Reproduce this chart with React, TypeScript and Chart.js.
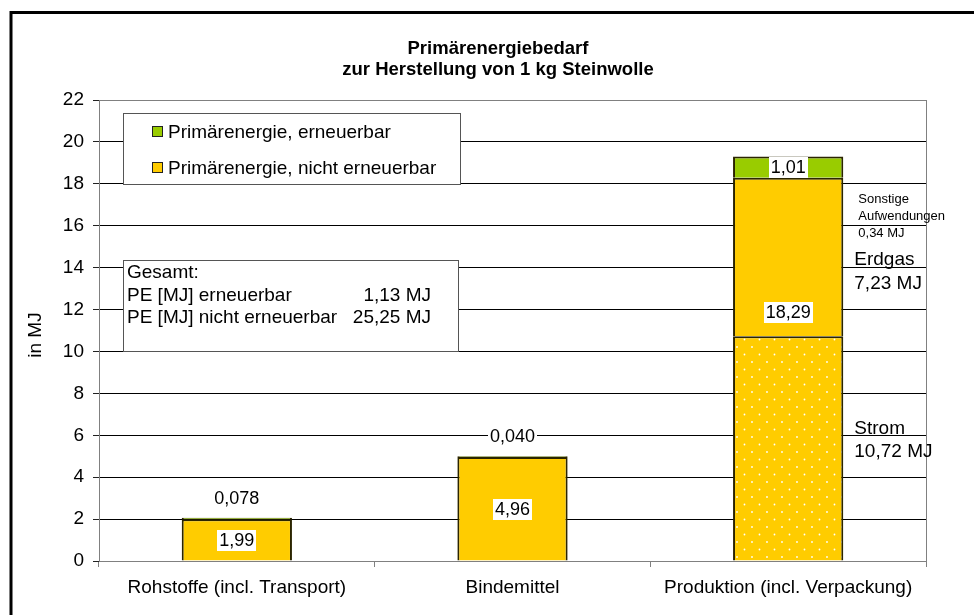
import React, { useEffect, useRef } from "react";
import { Chart, registerables } from "chart.js";

Chart.register(...registerables);

const FONT = "'Liberation Sans', Arial, sans-serif";

// ---- data ----
const categories = ["Rohstoffe (incl. Transport)", "Bindemittel", "Produktion (incl. Verpackung)"];
const nichtErneuerbar = [1.99, 4.96, 18.29];
const erneuerbar = [0.078, 0.04, 1.01];
const erneuerbarDecimals = [3, 3, 2];
const stromAnteil = [0, 0, 10.72];
const erdgasAnteil = 7.23;
const sonstigeAnteil = 0.34;
const yMin = 0;
const yMax = 22;
const yStep = 2;
const titleLines = ["Primärenergiebedarf", "zur Herstellung von 1 kg Steinwolle"];
const yTitle = "in MJ";
const legendLabels = ["Primärenergie, erneuerbar", "Primärenergie, nicht erneuerbar"];
const gesamtTitle = "Gesamt:";
const gesamtLabels = ["PE [MJ] erneuerbar", "PE [MJ] nicht erneuerbar"];
const gesamtValues = [1.13, 25.25];

const YELLOW = "#FFCC00";
const GREEN = "#99CC00";

const fmt = (v: number, d: number) => v.toFixed(d).replace(".", ",");

const restNichtErneuerbar = nichtErneuerbar.map((v, i) => +(v - stromAnteil[i]).toFixed(2));

export default function App() {
  const ref = useRef<HTMLCanvasElement | null>(null);

  useEffect(() => {
    const canvas = ref.current;
    if (!canvas) return;

    // dotted pattern for Strom
    const pc = document.createElement("canvas");
    pc.width = 15;
    pc.height = 15;
    const pctx = pc.getContext("2d")!;
    pctx.fillStyle = YELLOW;
    pctx.fillRect(0, 0, 15, 15);
    pctx.fillStyle = "#ffffff";
    pctx.beginPath();
    pctx.arc(2, 2, 0.9, 0, Math.PI * 2);
    pctx.arc(9.5, 9.5, 0.9, 0, Math.PI * 2);
    pctx.fill();
    const ctx0 = canvas.getContext("2d")!;
    const pattern = ctx0.createPattern(pc, "repeat")!;

    const labelBox = (ctx: CanvasRenderingContext2D, text: string, x: number, y: number, size: number) => {
      ctx.font = `${size}px ${FONT}`;
      const w = ctx.measureText(text).width;
      ctx.fillStyle = "#ffffff";
      ctx.fillRect(Math.round(x - w / 2 - 2), Math.round(y - 10.5), Math.round(w + 4), 21);
      ctx.fillStyle = "#000";
      ctx.textAlign = "center";
      ctx.textBaseline = "middle";
      ctx.fillText(text, x, y + 1);
    };

    const labelsPlugin = {
      id: "valueLabels",
      afterDatasetsDraw(chart: any) {
        const ctx = chart.ctx as CanvasRenderingContext2D;
        const yS = chart.scales.y;
        const mStrom = chart.getDatasetMeta(0);
        const mRest = chart.getDatasetMeta(1);
        const mErn = chart.getDatasetMeta(2);
        ctx.save();
        categories.forEach((_, i) => {
          const eRest = mRest.data[i];
          const eErn = mErn.data[i];
          const eStrom = mStrom.data[i];
          // nicht erneuerbar label
          let ny: number;
          if (stromAnteil[i] > 0) {
            ny = eStrom.y - 24;
          } else {
            ny = (yS.getPixelForValue(0) + yS.getPixelForValue(nichtErneuerbar[i])) / 2;
          }
          labelBox(ctx, fmt(nichtErneuerbar[i], 2), eRest.x, ny, 18);
          // erneuerbar label
          const h = Math.abs(eErn.base - eErn.y);
          const ey = h > 18 ? (eErn.y + eErn.base) / 2 : eErn.y - 20;
          labelBox(ctx, fmt(erneuerbar[i], erneuerbarDecimals[i]), eErn.x, ey, 18);
        });
        ctx.restore();
      },
      afterDraw(chart: any) {
        const ctx = chart.ctx as CanvasRenderingContext2D;
        const ca = chart.chartArea;
        const yS = chart.scales.y;
        ctx.save();
        // outer frame
        ctx.strokeStyle = "#000";
        ctx.lineWidth = 3;
        ctx.strokeRect(11, 12.5, 1200, 1200);
        // plot area right border
        ctx.strokeStyle = "#808080";
        ctx.lineWidth = 1;
        ctx.beginPath();
        ctx.moveTo(Math.round(ca.right) + 0.5, ca.top);
        ctx.lineTo(Math.round(ca.right) + 0.5, ca.bottom);
        ctx.stroke();

        // title
        ctx.fillStyle = "#000";
        ctx.textAlign = "center";
        ctx.textBaseline = "middle";
        ctx.font = `bold 18.5px ${FONT}`;
        ctx.fillText(titleLines[0], 498, 49);
        ctx.fillText(titleLines[1], 498, 70);

        // y title
        ctx.save();
        ctx.translate(36, 335);
        ctx.rotate(-Math.PI / 2);
        ctx.font = `19px ${FONT}`;
        ctx.fillText(yTitle, 0, 0);
        ctx.restore();

        // legend box
        const lx = 123.5, ly = 113.5, lw = 337, lh = 71;
        ctx.fillStyle = "#fff";
        ctx.fillRect(lx, ly, lw, lh);
        ctx.strokeStyle = "#555";
        ctx.strokeRect(lx, ly, lw, lh);
        const legendColors = [GREEN, YELLOW];
        legendLabels.forEach((t, k) => {
          const cy = 132 + k * 36;
          ctx.fillStyle = legendColors[k];
          ctx.fillRect(152.5, cy - 5.5, 10, 10);
          ctx.strokeStyle = "#222";
          ctx.strokeRect(152.5, cy - 5.5, 10, 10);
          ctx.fillStyle = "#000";
          ctx.textAlign = "left";
          ctx.font = `19px ${FONT}`;
          ctx.fillText(t, 168, cy + 1);
        });

        // Gesamt box
        const gx = 123.5, gy = 260.5, gw = 335, gh = 91;
        ctx.fillStyle = "#fff";
        ctx.fillRect(gx, gy, gw, gh);
        ctx.strokeStyle = "#555";
        ctx.strokeRect(gx, gy, gw, gh);
        ctx.fillStyle = "#000";
        ctx.font = `19px ${FONT}`;
        ctx.textAlign = "left";
        ctx.fillText(gesamtTitle, 127, 273);
        gesamtLabels.forEach((t, k) => {
          const cy = 296 + k * 22;
          ctx.textAlign = "left";
          ctx.fillText(t, 127, cy);
          ctx.textAlign = "right";
          ctx.fillText(fmt(gesamtValues[k], 2) + " MJ", 431, cy);
        });

        // annotations for Produktion bar
        const bar = chart.getDatasetMeta(0).data[2];
        const barRight = bar.x + bar.width / 2;
        const annos = [
          { lines: ["Sonstige", "Aufwendungen", fmt(sonstigeAnteil, 2) + " MJ"], at: 17.28, size: 13, dx: 15, lh: 17 },
          { lines: ["Erdgas", fmt(erdgasAnteil, 2) + " MJ"], at: 14.4, size: 19, dx: 11, lh: 23.5 },
          { lines: ["Strom", fmt(stromAnteil[2], 2) + " MJ"], at: 6.35, size: 19, dx: 11, lh: 23 },
        ];
        ctx.textAlign = "left";
        annos.forEach((a) => {
          ctx.font = `${a.size}px ${FONT}`;
          const y0 = yS.getPixelForValue(a.at);
          a.lines.forEach((t, k) => ctx.fillText(t, barRight + a.dx, y0 + k * a.lh + 1));
        });
        ctx.restore();
      },
    };

    const chart = new Chart(canvas, {
      type: "bar",
      data: {
        labels: categories,
        datasets: [
          {
            label: "Strom",
            data: stromAnteil,
            backgroundColor: pattern as any,
            borderColor: "#2b2500",
            borderWidth: 2,
            borderSkipped: "start",
          },
          {
            label: legendLabels[1],
            data: restNichtErneuerbar,
            backgroundColor: YELLOW,
            borderColor: "#2b2500",
            borderWidth: 2,
            borderSkipped: "start",
          },
          {
            label: legendLabels[0],
            data: erneuerbar,
            backgroundColor: GREEN,
            borderColor: "#2b2500",
            borderWidth: 2,
            borderSkipped: "start",
          },
        ],
      },
      options: {
        responsive: false,
        animation: false,
        events: [],
        datasets: { bar: { barPercentage: 0.4, categoryPercentage: 1 } },
        layout: { padding: { left: 0, right: 48, top: 100, bottom: 0 } },
        plugins: {
          legend: { display: false },
          title: { display: false },
          tooltip: { enabled: false },
        },
        scales: {
          x: {
            stacked: true,
            grid: {
              offset: true,
              drawOnChartArea: false,
              drawTicks: true,
              tickLength: 6,
              color: "#808080",
            },
            border: { color: "#808080", width: 1 },
            ticks: {
              font: { family: FONT, size: 19 },
              color: "#000",
              padding: 9,
              maxRotation: 0,
              autoSkip: false,
            },
            afterFit: (s: any) => {
              s.height = 54;
            },
          },
          y: {
            stacked: true,
            min: yMin,
            max: yMax,
            ticks: {
              stepSize: yStep,
              font: { family: FONT, size: 19 },
              color: "#000",
              padding: 9,
            },
            grid: {
              color: (c: any) => (c.tick && c.tick.value === yMax ? "#808080" : "#000"),
              tickColor: "#222",
              tickLength: 6,
            },
            border: { color: "#808080", width: 1 },
            afterFit: (s: any) => {
              s.width = 99;
            },
          },
        },
      },
      plugins: [labelsPlugin],
    });

    return () => chart.destroy();
  }, []);

  return (
    <div style={{ position: "fixed", left: 0, top: 0, width: 974, height: 615, background: "#fff" }}>
      <canvas ref={ref} width={974} height={615} style={{ display: "block" }} />
    </div>
  );
}
